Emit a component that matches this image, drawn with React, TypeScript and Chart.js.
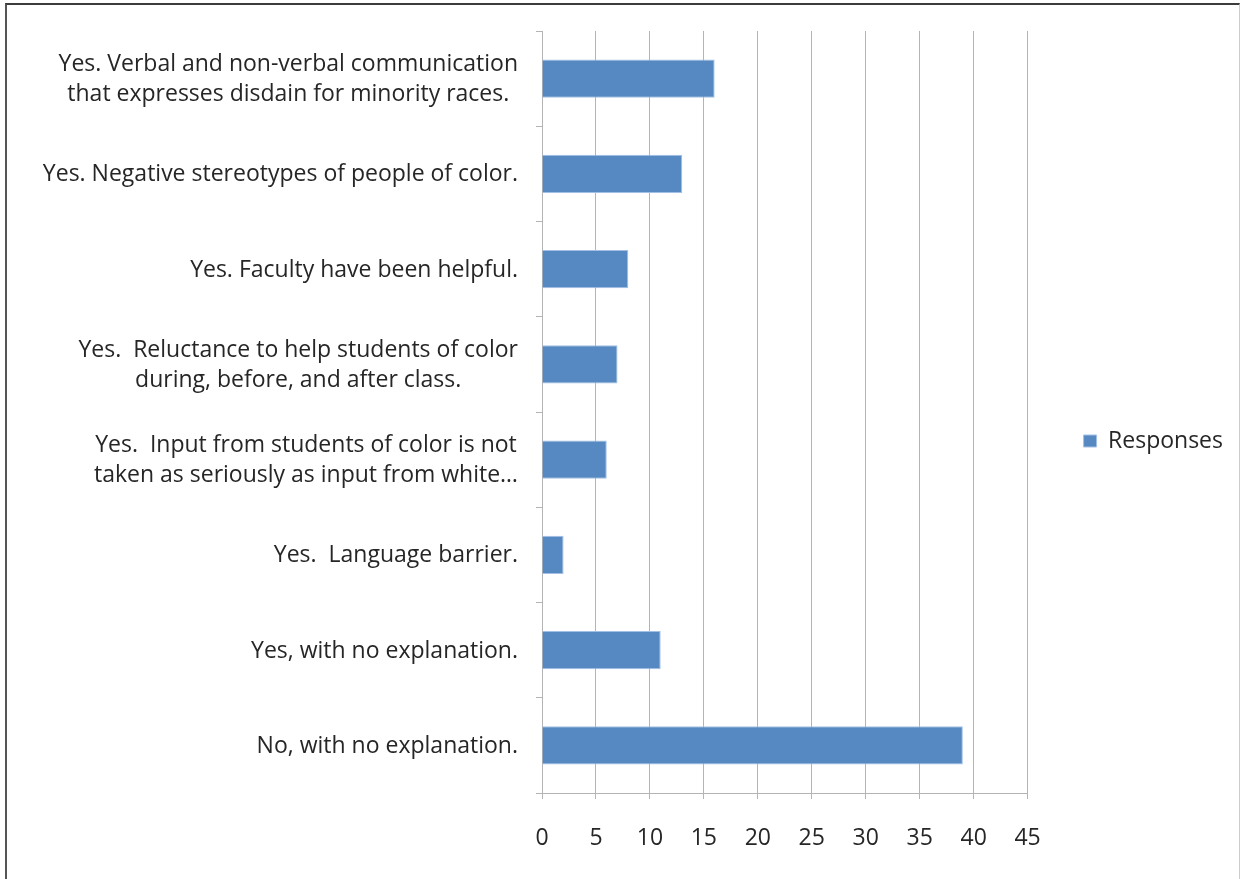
import React, { useEffect, useRef } from "react";
import { Chart, registerables } from "chart.js";

Chart.register(...registerables);

const categories: string[][] = [
  ["Yes. Verbal and non-verbal communication", "that expresses disdain for minority races."],
  ["Yes. Negative stereotypes of people of color."],
  ["Yes. Faculty have been helpful."],
  ["Yes.  Reluctance to help students of color", "during, before, and after class."],
  ["Yes.  Input from students of color is not", "taken as seriously as input from white\u2026"],
  ["Yes.  Language barrier."],
  ["Yes, with no explanation."],
  ["No, with no explanation."],
];

const responses: number[] = [16, 13, 8, 7, 6, 2, 11, 39];

const seriesName = "Responses";
const xMin = 0;
const xMax = 45;
const xStep = 5;

const FONT = "'Open Sans', sans-serif";
const FSIZE = 23;
const TEXT = "#262626";
const GRID = "#b4b4b4";

const yLabelPlugin = {
  id: "yLabelBlocks",
  afterDraw(chart: any) {
    const ys = chart.scales.y;
    const ctx = chart.ctx;
    ctx.save();
    ctx.font = `${FSIZE}px ${FONT}`;
    ctx.fillStyle = TEXT;
    ctx.textAlign = "center";
    ctx.textBaseline = "middle";
    const lineH = 30;
    const rightEdge = ys.right - 24;
    categories.forEach((lines, i) => {
      const yc = ys.getPixelForTick(i) + 1;
      const maxW = Math.max(...lines.map((l) => ctx.measureText(l).width));
      const cx = rightEdge - maxW / 2;
      const y0 = yc - ((lines.length - 1) * lineH) / 2;
      lines.forEach((l, j) => ctx.fillText(l, cx, y0 + j * lineH));
    });
    ctx.restore();
  },
};

export default function App() {
  const ref = useRef<HTMLCanvasElement>(null);
  useEffect(() => {
    document.body.style.margin = "0";
    const chart = new Chart(ref.current!, {
      type: "bar",
      data: {
        labels: categories.map((c) => c.join(" ")),
        datasets: [
          {
            label: seriesName,
            data: responses,
            backgroundColor: "#5689c2",
            borderColor: "#a3c0e4",
            borderWidth: 1,
            barPercentage: 0.4,
            categoryPercentage: 1,
          },
        ],
      },
      options: {
        indexAxis: "y",
        animation: false,
        responsive: false,
        devicePixelRatio: 1,
        layout: { padding: { top: 31, left: 0, right: 7, bottom: 28 } },
        plugins: {
          tooltip: { enabled: false },
          legend: {
            position: "right",
            labels: {
              boxWidth: 13,
              boxHeight: 12,
              padding: 56,
              color: TEXT,
              font: { size: FSIZE, family: FONT },
            },
          },
        },
        scales: {
          x: {
            min: xMin,
            max: xMax,
            ticks: {
              stepSize: xStep,
              color: TEXT,
              font: { size: FSIZE, family: FONT },
              padding: 26,
            },
            grid: { color: GRID, lineWidth: 1, tickLength: 6 },
            border: { color: GRID, width: 1 },
            afterFit: (s: any) => {
              s.height = 58;
            },
          },
          y: {
            ticks: { display: false },
            grid: {
              drawOnChartArea: false,
              drawTicks: true,
              tickLength: 6,
              color: GRID,
              offset: true,
            },
            border: { color: GRID, width: 1 },
            afterFit: (s: any) => {
              s.width = 542;
            },
          },
        },
      },
      plugins: [yLabelPlugin],
    });
    return () => chart.destroy();
  }, []);
  return (
    <div style={{ position: "relative", width: 1240, height: 879, background: "#fff", overflow: "hidden" }}>
      <div
        style={{
          position: "absolute",
          left: 5,
          top: 3,
          width: 1232,
          height: 880,
          borderTop: "2px solid #3c3c3c",
          borderLeft: "2px solid #555",
          borderRight: "1px solid #cccccc",
        }}
      />
      <canvas ref={ref} width={1240} height={879} style={{ position: "absolute", left: 0, top: 0 }} />
    </div>
  );
}
